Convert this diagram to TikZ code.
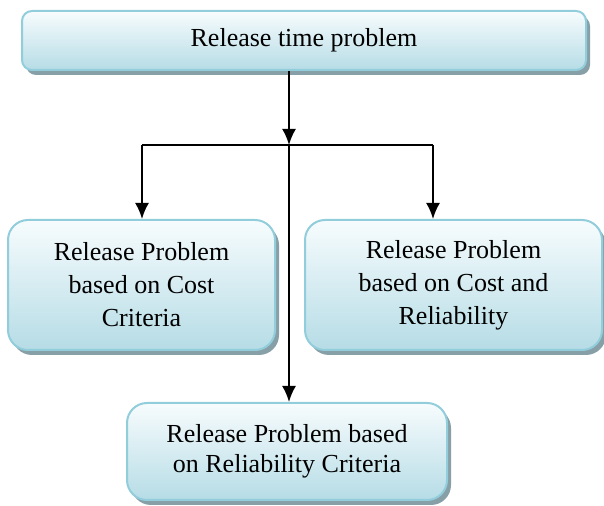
\documentclass[tikz,border=0pt]{standalone}
\usepackage{fontspec}
\setmainfont{Liberation Serif}
\usetikzlibrary{shadows,arrows.meta}

\definecolor{boxline}{HTML}{92CDDC}
\definecolor{boxtop}{HTML}{F7FCFD}
\definecolor{boxbot}{HTML}{B6DCE6}
\definecolor{boxshade}{HTML}{879FA6}

\tikzset{
  blk/.style={draw=boxline, line width=1pt, rounded corners=10pt,
    top color=boxtop, bottom color=boxbot, align=center,
    font=\fontsize{13}{16.5}\selectfont,
    drop shadow={shadow xshift=2pt, shadow yshift=-2.5pt, fill=boxshade, opacity=1}},
  arr/.style={line width=1pt, -{Latex[length=8pt,width=7pt]}}
}

\begin{document}
\begin{tikzpicture}[x=0.5pt, y=-0.5pt]
\useasboundingbox (0,0) rectangle (604,506);
\node[blk, rounded corners=5pt, minimum width=282pt, minimum height=29.5pt] (top) at (304,40.5) {Release time problem};
\node[blk, minimum width=133.5pt, minimum height=65pt] (left) at (141.5,285)
  {Release Problem\\based on Cost\\Criteria};
\node[blk, minimum width=148.5pt, minimum height=65pt] (right) at (453.5,285)
  {Release Problem\\based on Cost and\\Reliability};
\node[blk, minimum width=160pt, minimum height=48.5pt, font=\fontsize{13}{15}\selectfont] (bottom) at (287,451.5)
  {Release Problem based\\on Reliability Criteria};
% fork
\coordinate (j) at (289,145);
\coordinate (lj) at (142,145);
\coordinate (rj) at (433,145);
\draw[arr] (top.south -| j) -- (j);
\draw[line width=1pt] (lj) -- (rj);
\draw[arr] (lj) -- (lj |- left.north);
\draw[arr] (rj) -- (rj |- right.north);
\draw[arr] (j) -- (j |- bottom.north);
\end{tikzpicture}
\end{document}
